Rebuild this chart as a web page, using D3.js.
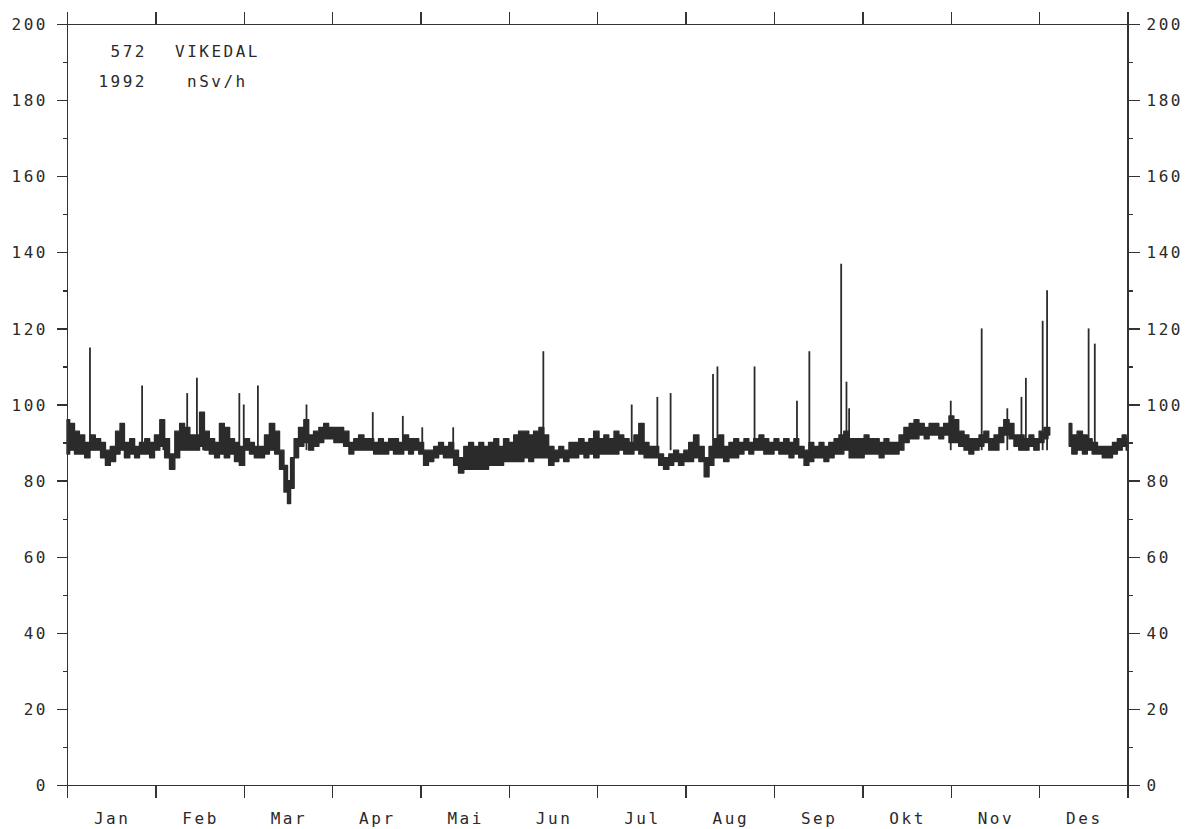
<!DOCTYPE html>
<html lang="no">
<head>
  <title>572 Vikedal 1992</title>
  <meta charset="utf-8">
  <script src="https://d3js.org/d3.v7.min.js"></script>
  <style type="text/css">
  body { margin: 0; background: #fff; }
  text {
    font-family: "DejaVu Sans Mono", "Liberation Mono", monospace;
    font-size: 16px;
    letter-spacing: 2.5px;
    fill: #2a2a2a;
  }
  .axis line, .axis path {
    stroke: #333;
    stroke-width: 1.3px;
    shape-rendering: crispEdges;
  }
  </style>
</head>
<body>
<div id="chart"></div>

<script type="text/javascript">

// month labels (x axis is month index, each month same width)
var monthNames = ["Jan","Feb","Mar","Apr","Mai","Jun","Jul","Aug","Sep","Okt","Nov","Des"];
var yTicks = [0,20,40,60,80,100,120,140,160,180,200];

// dose rate band: position in months, low and high of the trace (nSv/h)
var tMonth = [0.00,0.06,0.11,0.17,0.23,0.29,0.35,0.41,0.46,0.52,0.58,0.62,0.68,0.74,0.79,0.85,0.91,0.96,
  1.02,1.08,1.13,1.19,1.25,1.30,1.36,1.42,1.47,1.53,1.58,1.64,1.70,1.75,1.81,1.87,1.92,1.98,
  2.04,2.09,2.15,2.21,2.26,2.32,2.38,2.43,2.48,2.51,2.55,2.59,2.65,2.71,2.76,2.82,2.88,2.93,2.99,
  3.05,3.10,3.16,3.22,3.27,3.33,3.39,3.44,3.50,3.55,3.61,3.67,3.72,3.78,3.84,3.89,3.95,
  4.01,4.06,4.12,4.18,4.23,4.29,4.35,4.40,4.46,4.52,4.57,4.63,4.69,4.74,4.80,4.86,4.91,4.97,
  5.03,5.08,5.14,5.20,5.25,5.31,5.37,5.42,5.48,5.54,5.59,5.65,5.71,5.76,5.82,5.88,5.93,5.99,
  6.05,6.10,6.16,6.22,6.27,6.33,6.39,6.44,6.50,6.56,6.61,6.67,6.72,6.78,6.84,6.89,6.95,
  7.01,7.06,7.12,7.18,7.24,7.29,7.35,7.40,7.46,7.52,7.57,7.63,7.69,7.74,7.80,7.86,7.91,7.97,
  8.03,8.08,8.14,8.20,8.25,8.31,8.37,8.42,8.48,8.54,8.59,8.65,8.71,8.76,8.82,8.88,8.94,8.99,
  9.05,9.10,9.16,9.22,9.27,9.33,9.39,9.44,9.50,9.56,9.61,9.67,9.73,9.78,9.84,9.89,9.95,
  10.01,10.06,10.12,10.18,10.23,10.29,10.35,10.40,10.46,10.52,10.57,10.63,10.69,10.74,10.80,10.86,10.91,10.97,11.03,11.08,11.12,
  11.20,
  11.34,11.40,11.46,11.52,11.57,11.63,11.69,11.74,11.80,11.86,11.91,11.97,12.00];

var bandLow = [87,88,87,87,86,88,88,86,84,85,87,88,86,87,86,87,87,86,
  88,89,86,83,86,88,88,88,88,89,88,87,86,87,86,87,85,84,
  88,87,86,86,87,88,87,83,77,74,78,86,89,90,88,89,90,91,91,
  90,90,89,87,88,88,88,88,87,87,87,88,87,87,88,87,88,
  87,84,85,86,87,86,86,84,82,83,83,83,83,83,84,84,84,85,
  85,85,85,86,85,86,86,86,84,85,86,85,86,86,87,86,87,86,
  87,87,87,87,88,87,87,88,87,86,86,86,84,83,84,85,84,
  85,85,86,85,81,84,86,86,85,86,86,87,88,87,88,88,87,87,
  88,87,87,86,87,86,84,85,86,86,85,86,87,87,88,86,86,86,
  87,87,87,86,87,87,87,88,90,91,91,92,91,92,92,91,92,
  90,90,89,88,87,88,89,90,88,88,90,92,91,89,88,88,89,88,90,91,92,
  null,
  89,87,88,87,88,87,87,86,86,87,88,89,88];

var bandHigh = [96,95,93,92,90,92,91,90,88,89,93,95,90,91,89,90,91,90,
  92,96,91,87,93,95,94,92,92,98,93,91,90,95,94,91,90,89,
  91,90,89,89,92,95,93,88,84,80,86,91,94,96,92,93,94,95,94,
  94,94,93,90,91,92,91,91,90,91,90,91,91,90,92,91,91,
  90,88,88,89,90,89,90,88,86,89,90,89,90,89,90,91,89,91,
  90,92,93,93,92,93,94,92,89,88,89,88,90,90,91,90,91,93,
  91,92,91,93,92,91,90,92,95,90,89,89,87,86,87,88,87,
  88,90,92,89,86,89,91,92,89,90,91,90,91,90,91,92,91,90,
  91,90,91,90,91,89,88,90,89,90,89,90,91,92,93,91,91,91,
  92,91,91,90,91,90,90,92,94,95,96,95,94,95,95,94,95,
  97,96,93,92,91,91,92,93,91,92,94,96,95,92,92,91,92,91,93,94,94,
  null,
  95,92,93,92,91,90,89,89,89,90,91,92,91];

// short peaks above the band
var spikeAt = [0.26,0.85,1.09,1.36,1.47,1.54,1.95,2.00,2.16,2.71,
  3.46,3.80,4.02,4.37,5.39,6.39,6.68,6.83,7.31,7.36,
  7.78,8.26,8.40,8.76,8.82,8.85,10.00,10.35,10.64,10.80,
  10.85,11.04,11.09,11.56,11.63];
var spikeTop = [115,105,96,103,107,98,103,100,105,100,
  98,97,94,94,114,100,102,103,108,110,
  110,101,114,137,106,99,101,120,99,102,
  107,122,130,120,116];
var spikeBase = 88;

var width = 1186;
var height = 829;
var margin = {left: 67, right: 58.5, top: 24, bottom: 44};

var svg = d3.select("#chart")
  .append("svg")
  .attr("width", width)
  .attr("height", height);

var x = d3.scaleLinear()
  .domain([0, 12])
  .range([margin.left, width - margin.right]);

var y = d3.scaleLinear()
  .domain([0, 200])
  .range([height - margin.bottom, margin.top]);

var band = tMonth.map(function(t, i) {
  return {t: t, lo: bandLow[i], hi: bandHigh[i]};
});

// trace drawn as a filled band, stepped like the hourly plotter record
var area = d3.area()
  .defined(function(d) { return d.lo != null; })
  .x(function(d) { return x(d.t); })
  .y0(function(d) { return y(d.lo); })
  .y1(function(d) { return y(d.hi); })
  .curve(d3.curveStep);

svg.append("path")
  .datum(band)
  .attr("d", area)
  .style("fill", "#2b2b2b")
  .style("stroke", "#2b2b2b")
  .style("stroke-width", 1.4)
  .style("stroke-linejoin", "round");

svg.selectAll("line.spike")
  .data(spikeAt)
  .enter()
  .append("line")
  .attr("class", "spike")
  .attr("x1", function(d) { return x(d); })
  .attr("x2", function(d) { return x(d); })
  .attr("y1", y(spikeBase))
  .attr("y2", function(d, i) { return y(spikeTop[i]); })
  .style("stroke", "#2b2b2b")
  .style("stroke-width", 1.8);

// axes: month boundaries on top and bottom, ticks only
var monthTicks = d3.range(0, 13);

svg.append("g")
  .attr("class", "axis")
  .attr("transform", "translate(0," + y(0) + ")")
  .call(d3.axisBottom(x).tickValues(monthTicks).tickSize(13).tickFormat(""));

svg.append("g")
  .attr("class", "axis")
  .attr("transform", "translate(0," + y(200) + ")")
  .call(d3.axisTop(x).tickValues(monthTicks).tickSize(12).tickFormat(""));

// month names centred between boundaries
svg.selectAll("text.month")
  .data(monthNames)
  .enter()
  .append("text")
  .attr("class", "month")
  .attr("x", function(d, i) { return x(i + 0.5) + 1; })
  .attr("y", 824)
  .attr("text-anchor", "middle")
  .text(function(d) { return d; });

// left axis: major ticks out, minor ticks
var minorTicks = d3.range(10, 200, 20);

svg.append("g")
  .attr("class", "axis")
  .attr("transform", "translate(" + x(0) + ",0)")
  .call(d3.axisLeft(y).tickValues(yTicks).tickSize(10).tickSizeOuter(0).tickPadding(9))
  .selectAll("text")
  .attr("dy", "0.35em");

svg.append("g")
  .attr("class", "axis")
  .attr("transform", "translate(" + x(0) + ",0)")
  .call(d3.axisLeft(y).tickValues(minorTicks).tickSize(4).tickFormat(""))
  .select(".domain").remove();

// right axis
svg.append("g")
  .attr("class", "axis")
  .attr("transform", "translate(" + x(12) + ",0)")
  .call(d3.axisRight(y).tickValues(yTicks).tickSize(12).tickSizeOuter(0).tickPadding(7))
  .selectAll("text")
  .attr("dy", "0.35em");

svg.append("g")
  .attr("class", "axis")
  .attr("transform", "translate(" + x(12) + ",0)")
  .call(d3.axisRight(y).tickValues(minorTicks).tickSize(5).tickFormat(""))
  .select(".domain").remove();

// axis tick labels in the plotter font
svg.selectAll(".axis text")
  .style("font-family", "'DejaVu Sans Mono', monospace")
  .style("font-size", "16px")
  .style("fill", "#2a2a2a");

// station header
var header = svg.append("g");
header.append("text").attr("x", 147).attr("y", 57).attr("text-anchor", "end").text("572");
header.append("text").attr("x", 175).attr("y", 57).text("VIKEDAL");
header.append("text").attr("x", 147).attr("y", 87).attr("text-anchor", "end").text("1992");
header.append("text").attr("x", 187).attr("y", 87).text("nSv/h");

</script>
</body>
</html>
